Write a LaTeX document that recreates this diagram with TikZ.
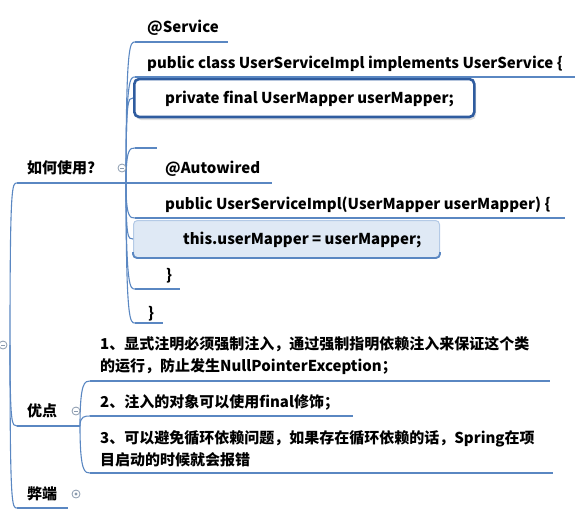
\documentclass[tikz,border=0pt]{standalone}
\usepackage{fontspec}
\newfontfamily\cjk{Noto Sans CJK SC}
\definecolor{lineblue}{HTML}{5A87C2}
\definecolor{boxblue}{HTML}{2F5C9F}
\definecolor{lightfill}{HTML}{DFE9F5}
\definecolor{lightedge}{HTML}{B4CAE6}
\definecolor{btngray}{HTML}{8A9AAE}
\tikzset{
  txt/.style={font=\cjk\bfseries\fontsize{15}{22}\selectfont, anchor=base west, inner sep=0pt, align=left},
  uline/.style={draw=lineblue, line width=2.4pt},
  conn/.style={draw=lineblue, line width=1.1pt},
  btn/.style={circle, draw=btngray, fill=white, line width=0.8pt, minimum size=8pt, inner sep=0pt},
  fldbox/.style={draw=boxblue, line width=2.6pt, rounded corners=5pt, fill=white, inner sep=0pt, anchor=west},
  asgbox/.style={draw=lightedge, line width=1pt, rounded corners=4pt, fill=lightfill, inner sep=0pt, anchor=west},
}
\begin{document}
\begin{tikzpicture}[x=1pt,y=-1pt]
\useasboundingbox (0,0) rectangle (585,515);
% branch points
\coordinate (root) at (10,345);
\coordinate (bphow) at (126,183);
\coordinate (bpadv) at (80,426);
% underline starts/ends
\coordinate (uhow) at (17,183);  \coordinate (uhowE) at (115,183);
\coordinate (uadv) at (17,426);  \coordinate (uadvE) at (68,426);
\coordinate (udis) at (17,508);  \coordinate (udisE) at (68,508);
\coordinate (usvc) at (135,42);  \coordinate (usvcE) at (228,42);
\coordinate (ucls) at (135,77);  \coordinate (uclsE) at (575,77);
\coordinate (uemp) at (135,148); \coordinate (uempE) at (157,148);
\coordinate (uaw) at (135,183);  \coordinate (uawE) at (272,183);
\coordinate (uctor) at (135,218); \coordinate (uctorE) at (565,218);
\coordinate (ucb1) at (135,289); \coordinate (ucb1E) at (180,289);
\coordinate (ucb2) at (135,323); \coordinate (ucb2E) at (163,323);
\coordinate (up1) at (90,381);   \coordinate (up1E) at (550,381);
\coordinate (up2) at (90,416);   \coordinate (up2E) at (353,416);
\coordinate (up3) at (90,473);   \coordinate (up3E) at (553,473);

% boxes
\fill[black!12, rounded corners=5pt] (136,82) rectangle (476,120);
\node[fldbox, minimum width=340pt, minimum height=38pt] (fbox) at (133,98) {};
\node[asgbox, minimum width=306pt, minimum height=37pt] (abox) at (133,239) {};
\draw[draw=lineblue, line width=1.8pt, rounded corners=4pt] ([yshift=6pt]abox.south west) |- (abox.south) -| ([yshift=6pt]abox.south east);

% root connectors
\foreach \c in {uhow,uadv,udis}{
  \draw[conn] (root) .. controls (root |- \c) and ([xshift=-5pt]\c) .. (\c);
}
% underlines level 1
\draw[uline] (uhow) -- (uhowE);
\draw[uline] (uadv) -- (uadvE);
\draw[uline] (udis) -- (udisE);
\draw[conn] (uhowE) -- (bphow);
\draw[conn] (uadvE) -- (bpadv);

% 如何使用 children
\foreach \c in {usvc,ucls,uemp,uctor,ucb1,ucb2}{
  \draw[conn] (bphow) .. controls (bphow |- \c) and ([xshift=-5pt]\c) .. (\c);
}
\draw[conn] (bphow) .. controls (bphow |- fbox.west) and ([xshift=-5pt]fbox.west) .. (fbox.west);
\draw[conn] (bphow) .. controls (bphow |- abox.west) and ([xshift=-5pt]abox.west) .. (abox.west);
\draw[conn] (bphow) -- (uaw);
\draw[uline] (usvc) -- (usvcE);
\draw[uline] (ucls) -- (uclsE);
\draw[uline] (uemp) -- (uempE);
\draw[uline] (uaw) -- (uawE);
\draw[uline] (uctor) -- (uctorE);
\draw[uline] (ucb1) -- (ucb1E);
\draw[uline] (ucb2) -- (ucb2E);

% 优点 children
\foreach \c in {up1,up2,up3}{
  \draw[conn] (bpadv) .. controls (bpadv |- \c) and ([xshift=-5pt]\c) .. (\c);
}
\draw[uline] (up1) -- (up1E);
\draw[uline] (up2) -- (up2E);
\draw[uline] (up3) -- (up3E);

% buttons
\node[btn] (broot) at (3,345) {};
\draw[btngray, line width=0.8pt] ([xshift=-2pt]broot.center) -- ([xshift=2pt]broot.center);
\node[btn] (bhow) at (122,168) {};
\draw[btngray, line width=0.8pt] ([xshift=-2pt]bhow.center) -- ([xshift=2pt]bhow.center);
\node[btn] (badv) at (76,411) {};
\draw[btngray, line width=0.8pt] ([xshift=-2pt]badv.center) -- ([xshift=2pt]badv.center);
\node[btn] (bdis) at (76,494) {};
\fill[btngray] (bdis.center) circle (1.6pt);

% texts
\node[txt] (how) at (27,173.5) {如何使用?};
\node[txt] (adv) at (27,416.5) {优点};
\node[txt] (dis) at (27,499.5) {弊端};
\node[txt] (svc) at (147,32.5) {@Service};
\node[txt] (cls) at (147,68.5) {public class UserServiceImpl implements UserService \{};
\node[txt] (fld) at (165,103.5) {private final UserMapper userMapper;};
\node[txt] (aw) at (165,173.5) {@Autowired};
\node[txt] (ctor) at (165,209.5) {public UserServiceImpl(UserMapper userMapper) \{};
\node[txt] (asg) at (183,244.5) {this.userMapper = userMapper;};
\node[txt] (cb1) at (166,280) {\}};
\node[txt] (cb2) at (148,318) {\}};
\node[txt] (p1) at (100,371.5) {1、显式注明必须强制注入，通过强制指明依赖注入来保证这个类\\的运行，防止发生NullPointerException；};
\node[txt] (p2) at (100,407.5) {2、注入的对象可以使用final修饰；};
\node[txt] (p3) at (100,465.5) {3、可以避免循环依赖问题，如果存在循环依赖的话，Spring在项\\目启动的时候就会报错};
\end{tikzpicture}
\end{document}
